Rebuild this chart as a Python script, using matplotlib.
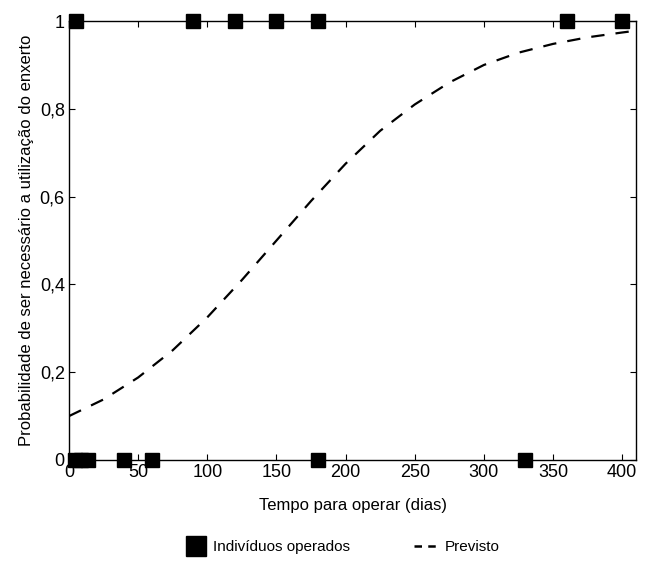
import numpy as np
import matplotlib
matplotlib.use('Agg')
import matplotlib.pyplot as plt
from matplotlib.lines import Line2D

plt.rcParams['font.family'] = ['Liberation Sans', 'DejaVu Sans']

# Individuals operated (observed outcome 0/1)
tempo_sim = [5, 90, 120, 150, 180, 360, 400]
tempo_nao = [4, 9, 14, 40, 60, 180, 330]

# Predicted probability curve
curva_x = [0, 25, 50, 75, 100, 125, 150, 175, 200, 225, 250, 275, 300, 325, 350, 375, 400, 410]
curva_y = [0.10, 0.138, 0.188, 0.25, 0.325, 0.41, 0.50, 0.59, 0.675, 0.75,
           0.81, 0.86, 0.90, 0.928, 0.948, 0.963, 0.974, 0.978]

yticks = [0, 0.2, 0.4, 0.6, 0.8, 1]
ytick_labels = ['0', '0,2', '0,4', '0,6', '0,8', '1']

fig = plt.figure(figsize=(6.49, 5.62), dpi=100)
ax = fig.add_axes([0.1063, 0.1815, 0.8737, 0.781])

ax.plot(curva_x, curva_y, color='black', linestyle=(0, (6, 5)), lw=1.6)
ax.plot(tempo_sim, np.ones(len(tempo_sim)), linestyle='', marker='s', markersize=10,
        color='black', clip_on=False, zorder=5)
ax.plot(tempo_nao, np.zeros(len(tempo_nao)), linestyle='', marker='s', markersize=10,
        color='black', clip_on=False, zorder=5)

ax.set_xlim(0, 410)
ax.set_ylim(0, 1)
ax.set_xticks(np.arange(0, 401, 50))
ax.set_yticks(yticks)
ax.set_yticklabels(ytick_labels)
ax.tick_params(direction='in', top=True, right=True, length=4, labelsize=13, pad=3)
for s in ax.spines.values():
    s.set_linewidth(1.0)

ax.set_xlabel('Tempo para operar (dias)', fontsize=12, labelpad=12)
ax.set_ylabel('Probabilidade de ser necessário a utilização do enxerto', fontsize=12, labelpad=4)

handles = [Line2D([], [], linestyle='', marker='s', markersize=15, color='black'),
           Line2D([], [], linestyle=(0, (3, 2.5)), color='black', lw=1.8)]
fig.legend(handles, ['Indivíduos operados', 'Previsto'], loc='lower center',
           bbox_to_anchor=(0.525, -0.01), ncol=2, frameon=False, fontsize=11,
           handlelength=1.8, handletextpad=0.2, columnspacing=4.2)

fig.savefig('out.png', dpi=100)
